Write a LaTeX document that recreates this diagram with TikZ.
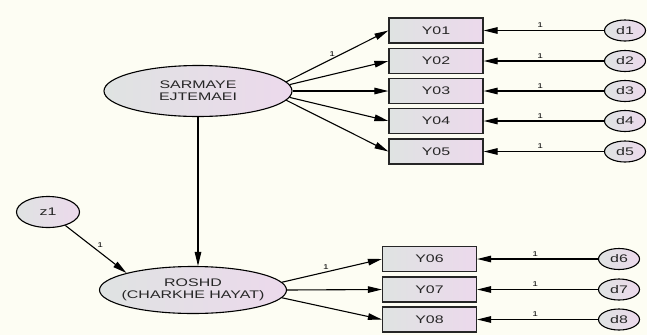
\documentclass[tikz,border=0pt]{standalone}
\usepackage{fontspec}
\setmainfont{Liberation Sans}
\newfontfamily\diagfont[FakeStretch=1.45]{Liberation Sans}
\usetikzlibrary{shapes.geometric,arrows.meta}

\definecolor{bgcream}{HTML}{FDFDF3}
\definecolor{fillgrey}{HTML}{DFE3E2}
\definecolor{fillpink}{HTML}{ECD9EC}
\definecolor{inkgrey}{HTML}{262626}

\tikzset{
	latent/.style={ellipse, draw=black, line width=1.1pt, left color=fillgrey, right color=fillpink,
		inner xsep=-12pt, inner ysep=0pt, align=center, text=inkgrey, font=\diagfont\fontsize{11}{12.3}\selectfont},
	observed/.style={rectangle, draw=black!85, line width=1.2pt, left color=fillgrey, right color=fillpink,
		minimum width=94pt, minimum height=25pt, inner sep=0pt, text=inkgrey,
		font=\diagfont\fontsize{11}{12}\selectfont},
	errvar/.style={ellipse, draw=black, line width=1.1pt, left color=fillgrey, right color=fillpink,
		minimum width=41pt, minimum height=21pt, inner sep=0pt, text=inkgrey,
		font=\diagfont\fontsize{11}{12}\selectfont},
	regpath/.style={-{Triangle[length=14pt,width=6.5pt]}, line width=1.1pt},
	weight/.style={font=\diagfont\fontsize{7}{8}\selectfont, inner sep=1pt}
}

\begin{document}
\begin{tikzpicture}[x=1pt, y=-1pt]

	% hintergrund
	\fill[bgcream] (0,0) rectangle (647,335);
	\useasboundingbox (0,0) rectangle (647,335);

	% latente variablen
	\node[latent, minimum width=188pt, minimum height=51pt] (sarmaye) at (198,91) {SARMAYE\\EJTEMAEI};
	\node[latent, minimum width=187pt, minimum height=47pt] (roshd) at (193,290) {ROSHD\\(CHARKHE HAYAT)};
	\node[latent, minimum width=63pt, minimum height=31pt] (z1) at (48,212) {z1};

	% indikatoren oben
	\node[observed] (y01) at (436,30.5) {Y01};
	\node[observed] (y02) at (436,61) {Y02};
	\node[observed] (y03) at (436,91) {Y03};
	\node[observed] (y04) at (436,121) {Y04};
	\node[observed] (y05) at (436,151.5) {Y05};

	% indikatoren unten
	\node[observed] (y06) at (429.5,259) {Y06};
	\node[observed] (y07) at (429.5,289.5) {Y07};
	\node[observed] (y08) at (429.5,319.5) {Y08};

	% fehlerterme
	\node[errvar] (d1) at (625,30.5) {d1};
	\node[errvar] (d2) at (625,61) {d2};
	\node[errvar] (d3) at (625,91) {d3};
	\node[errvar] (d4) at (625,121) {d4};
	\node[errvar] (d5) at (625,151.5) {d5};
	\node[errvar] (d6) at (619,259) {d6};
	\node[errvar] (d7) at (619,289.5) {d7};
	\node[errvar] (d8) at (619,319.5) {d8};

	% ladungen oben
	\draw[regpath] (sarmaye.6) -- (y01.west) node[weight, pos=0.45, above=1pt] {1};
	\draw[regpath] (sarmaye.4) -- (y02.west);
	\draw[regpath] (sarmaye.east) -- (y03.west);
	\draw[regpath] (sarmaye.-4) -- (y04.west);
	\draw[regpath] (sarmaye.-6) -- (y05.west);

	% ladungen unten
	\draw[regpath] (roshd.5) -- (y06.west) node[weight, pos=0.44, above=1pt] {1};
	\draw[regpath] (roshd.east) -- (y07.west);
	\draw[regpath] (roshd.-5) -- (y08.west);

	% strukturpfad und residuum
	\draw[regpath] (sarmaye.south) -- (sarmaye.south |- roshd.north);
	\draw[regpath] (z1) -- (roshd.north west) node[weight, pos=0.5, above right] {1};

	% fehlerpfade
	\draw[regpath] (d1) -- (y01) node[weight, pos=0.53, above=1pt] {1};
	\draw[regpath] (d2) -- (y02) node[weight, pos=0.53, above=1pt] {1};
	\draw[regpath] (d3) -- (y03) node[weight, pos=0.53, above=1pt] {1};
	\draw[regpath] (d4) -- (y04) node[weight, pos=0.53, above=1pt] {1};
	\draw[regpath] (d5) -- (y05) node[weight, pos=0.53, above=1pt] {1};
	\draw[regpath] (d6) -- (y06) node[weight, pos=0.52, above=1pt] {1};
	\draw[regpath] (d7) -- (y07) node[weight, pos=0.52, above=1pt] {1};
	\draw[regpath] (d8) -- (y08) node[weight, pos=0.52, above=1pt] {1};

\end{tikzpicture}
\end{document}
